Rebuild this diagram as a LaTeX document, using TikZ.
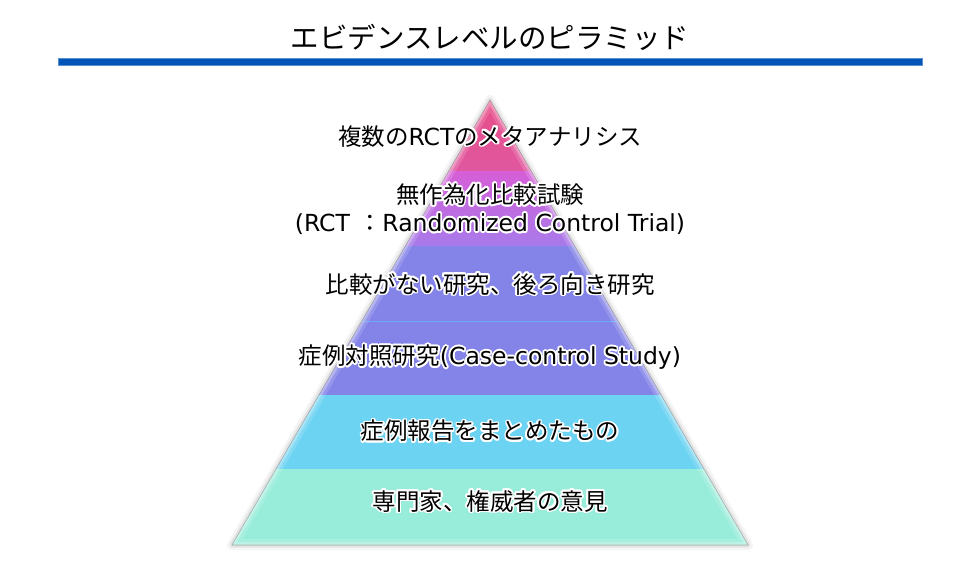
\documentclass[tikz,border=0pt]{standalone}
\usepackage{fontspec}
\setmainfont{Noto Sans CJK JP}
\newfontfamily\lt{DejaVu Sans}
\usepackage[copies]{contour}
\contourlength{1.7pt}
\contournumber{16}
\definecolor{rulecol}{HTML}{0056B6}
\definecolor{ruleedge}{HTML}{5A90D2}
\definecolor{pinkA}{HTML}{E84C86}
\definecolor{pinkB}{HTML}{E058A0}
\definecolor{violA}{HTML}{D55FD8}
\definecolor{violB}{HTML}{A87AEA}
\definecolor{blueV}{HTML}{8383E8}
\definecolor{sepline}{HTML}{6CA8F4}
\definecolor{cyanB}{HTML}{6DD3F3}
\definecolor{mintB}{HTML}{97EDDA}
\tikzset{
  titletext/.style={inner sep=0pt, font=\fontsize{28.5}{32}\selectfont},
  lvltext/.style={inner sep=0pt, align=center, font=\fontsize{23.5}{28}\selectfont},
  rulebar/.style={fill=rulecol, draw=ruleedge, line width=0.8pt, minimum width=864pt, minimum height=7pt, inner sep=0pt},
  pyr/.style={line join=round},
}
\newcommand{\halo}[1]{\contour{white}{#1}}
\begin{document}
\begin{tikzpicture}[x=1pt,y=1pt]
\useasboundingbox (0,0) rectangle (970,-577);
\fill[white] (0,0) rectangle (970,-577);
% title and rule
\node[titletext] (title) at (490,-37) {エビデンスレベルのピラミッド};
\node[rulebar] (rule) at (490,-61.5) {};
% pyramid corners
\coordinate (apex) at (490,-100);
\coordinate (bl) at (232,-545);
\coordinate (br) at (748,-545);
% shadow
\begin{scope}[shift={(2,-5)}]
  \draw[pyr, black, opacity=0.04, line width=10pt] (apex)--(bl)--(br)--cycle;
  \draw[pyr, black, opacity=0.07, line width=5pt] (apex)--(bl)--(br)--cycle;
  \fill[black, opacity=0.2] (apex)--(bl)--(br)--cycle;
\end{scope}
% bands
\begin{scope}
  \clip (apex)--(bl)--(br)--cycle;
  \shade[top color=pinkA, bottom color=pinkB] (200,-95) rectangle (780,-172);
  \shade[top color=violA, bottom color=violB] (200,-172) rectangle (780,-246);
  \fill[blueV] (200,-246) rectangle (780,-395);
  \draw[sepline, line width=1pt] (200,-322) -- (780,-322);
  \fill[cyanB] (200,-395) rectangle (780,-469);
  \fill[mintB] (200,-469) rectangle (780,-550);
  % bevel highlight
  \draw[pyr, white, opacity=0.15, line width=12pt] (apex)--(bl)--(br)--cycle;
  \draw[pyr, white, opacity=0.22, line width=6pt] (apex)--(bl)--(br)--cycle;
  \draw[pyr, white, opacity=0.2, line width=3pt] (apex)--(bl)--(br)--cycle;
\end{scope}
\draw[pyr, black!45, opacity=0.6, line width=0.6pt] (apex)--(bl)--(br)--cycle;
% labels
\node[lvltext] (l1) at (490,-137) {\halo{複数の{\lt RCT}のメタアナリシス}};
\node[lvltext] (l2) at (490,-210) {\halo{無作為化比較試験}\\\halo{{\lt (RCT}\hspace{9pt}：{\lt Randomized Control Trial)}}};
\node[lvltext] (l3) at (490,-285) {\halo{比較がない研究、後ろ向き研究}};
\node[lvltext] (l4) at (490,-358) {\halo{症例対照研究{\lt (Case-control Study)}}};
\node[lvltext] (l5) at (490,-432) {\halo{症例報告をまとめたもの}};
\node[lvltext] (l6) at (490,-502) {\halo{専門家、権威者の意見}};
\end{tikzpicture}
\end{document}
